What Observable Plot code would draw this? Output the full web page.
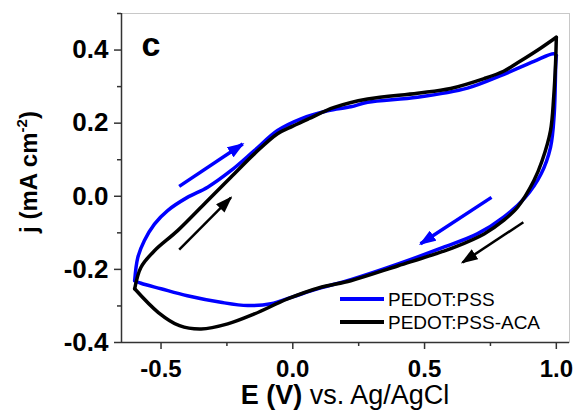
<!DOCTYPE html>
<html><head><meta charset="utf-8">
<script src="https://cdn.jsdelivr.net/npm/d3@7"></script>
<script src="https://cdn.jsdelivr.net/npm/@observablehq/plot@0.6"></script>
<style>
html,body{margin:0;padding:0;background:#fff;}
#chart{width:576px;height:410px;position:relative;}
svg{font-family:"Liberation Sans",Arial,sans-serif;}
</style></head><body><div id="chart"></div>
<script>
// Series
const series = ["PEDOT:PSS", "PEDOT:PSS-ACA"];
const seriesColors = ["#0000ff", "#000000"];

// PEDOT:PSS (blue) forward (anodic) scan
const pssFwdE = [-0.60, -0.588, -0.563, -0.525, -0.475, -0.40, -0.323, -0.235, -0.146, -0.058, 0.031, 0.132, 0.22, 0.284, 0.473, 0.663, 0.789, 0.915, 0.99, 1.0];
const pssFwdJ = [-0.231, -0.167, -0.121, -0.076, -0.039, -0.003, 0.025, 0.070, 0.125, 0.180, 0.212, 0.234, 0.245, 0.257, 0.271, 0.296, 0.330, 0.369, 0.390, 0.385];
// PEDOT:PSS (blue) reverse (cathodic) scan
const pssRevE = [1.0, 0.998, 0.992, 0.978, 0.942, 0.882, 0.80, 0.70, 0.57, 0.40, 0.22, 0.10, 0.0, -0.083, -0.171, -0.273, -0.40, -0.50, -0.576, -0.60];
const pssRevJ = [0.385, 0.362, 0.225, 0.134, 0.061, -0.003, -0.057, -0.103, -0.140, -0.185, -0.228, -0.252, -0.275, -0.294, -0.299, -0.290, -0.272, -0.253, -0.238, -0.231];

// PEDOT:PSS-ACA (black) forward scan
const acaFwdE = [-0.60, -0.576, -0.525, -0.437, -0.336, -0.235, -0.146, -0.058, 0.0, 0.06, 0.157, 0.284, 0.473, 0.599, 0.726, 0.80, 0.853, 0.94, 1.0];
const acaFwdJ = [-0.253, -0.194, -0.149, -0.094, -0.021, 0.052, 0.116, 0.171, 0.192, 0.212, 0.243, 0.266, 0.282, 0.295, 0.322, 0.342, 0.365, 0.405, 0.435];
// PEDOT:PSS-ACA (black) reverse scan
const acaRevE = [1.0, 0.997, 0.99, 0.978, 0.945, 0.915, 0.853, 0.80, 0.726, 0.612, 0.561, 0.40, 0.22, 0.107, -0.02, -0.146, -0.247, -0.348, -0.43, -0.51, -0.60];
const acaRevJ = [0.435, 0.362, 0.271, 0.180, 0.095, 0.043, -0.030, -0.066, -0.103, -0.140, -0.153, -0.190, -0.231, -0.249, -0.281, -0.322, -0.349, -0.363, -0.354, -0.318, -0.253];

// Scan-direction arrows
const arrowSeries = ["PEDOT:PSS", "PEDOT:PSS-ACA", "PEDOT:PSS", "PEDOT:PSS-ACA"];
const arrowE1 = [-0.431, -0.431, 0.754, 0.875];
const arrowJ1 = [0.027, -0.146, -0.003, -0.071];
const arrowE2 = [-0.19, -0.235, 0.485, 0.644];
const arrowJ2 = [0.143, -0.004, -0.130, -0.181];

// Axis ticks
const xMajorTicks = [-0.5, 0.0, 0.5, 1.0];
const xMinorTicks = [-0.25, 0.25, 0.75];
const yMajorTicks = [-0.4, -0.2, 0.0, 0.2, 0.4];
const yMinorTicks = [-0.3, -0.1, 0.1, 0.3, 0.5];

const rows = [];
function addSeg(name, seg, E, J) { E.forEach((e, i) => rows.push({series: name, seg: name + seg, E: e, J: J[i]})); }
addSeg(series[0], "f", pssFwdE, pssFwdJ);
addSeg(series[0], "r", pssRevE, pssRevJ);
addSeg(series[1], "f", acaFwdE, acaFwdJ);
addSeg(series[1], "r", acaRevE, acaRevJ);

const arrows = arrowSeries.map((s, i) => ({series: s, x1: arrowE1[i], y1: arrowJ1[i], x2: arrowE2[i], y2: arrowJ2[i]}));

const fmt = d => d.toFixed(1);
const axisStroke = "#333";

const chart = Plot.plot({
  width: 576, height: 410,
  marginLeft: 121, marginRight: 7, marginTop: 13, marginBottom: 68,
  style: {background: "#fff", color: "#000", fontFamily: "Liberation Sans, Arial, sans-serif", overflow: "visible"},
  x: {domain: [-0.65, 1.05], label: null},
  y: {domain: [-0.4, 0.5], label: null},
  color: {domain: series, range: seriesColors},
  marks: [
    Plot.frame({stroke: "#c8c8c8", strokeWidth: 1}),
    Plot.ruleX([-0.65], {stroke: axisStroke, strokeWidth: 1.5}),
    Plot.ruleY([-0.4], {stroke: axisStroke, strokeWidth: 1.5}),
    Plot.axisX({ticks: xMajorTicks, tickSize: 7, tickPadding: 10, tickFormat: fmt, fontSize: 24, fontWeight: "bold", stroke: axisStroke, strokeWidth: 1.5, label: null}),
    Plot.axisX({ticks: xMinorTicks, tickSize: 4, tickFormat: () => "", stroke: axisStroke, strokeWidth: 1.5, label: null}),
    Plot.axisY({ticks: yMajorTicks, tickSize: 7, tickPadding: 6, tickFormat: fmt, fontSize: 26, fontWeight: "bold", stroke: axisStroke, strokeWidth: 1.5, label: null}),
    Plot.axisY({ticks: yMinorTicks, tickSize: 4, tickFormat: () => "", stroke: axisStroke, strokeWidth: 1.5, label: null}),
    Plot.line(rows, {x: "E", y: "J", z: "seg", stroke: "series", strokeWidth: 3.5, curve: "catmull-rom"}),
    Plot.link(arrows, {x1: "x1", y1: "y1", x2: "x2", y2: "y2", stroke: "series", strokeWidth: d => d.series === series[0] ? 3.5 : 2.5}),
    Plot.text(["c"], {frameAnchor: "top-left", dx: 20, dy: 18, fontSize: 34, fontWeight: "bold", fill: "#000"})
  ]
});

document.getElementById("chart").appendChild(chart);

const svg = d3.select(chart.tagName.toLowerCase() === "svg" ? chart : chart.querySelector("svg"));
// Filled arrowheads
const defs = svg.append("defs");
seriesColors.forEach((c, i) => {
  defs.append("marker").attr("id", "head" + i)
    .attr("viewBox", "0 -6 17 12").attr("refX", 15).attr("refY", 0)
    .attr("markerWidth", 17).attr("markerHeight", 12)
    .attr("markerUnits", "userSpaceOnUse").attr("orient", "auto")
    .append("path").attr("d", "M0,-6L17,0L0,6Z").attr("fill", c);
});
svg.selectAll('g[aria-label="link"] path').each(function() {
  const s = (this.getAttribute("stroke") || "").toLowerCase();
  d3.select(this).attr("marker-end", s === seriesColors[0] ? "url(#head0)" : "url(#head1)");
});

// Axis titles
const yl = svg.append("text").attr("transform", "translate(37,172) rotate(-90)")
  .attr("text-anchor", "middle").attr("font-size", 24).attr("font-weight", "bold").attr("fill", "#000");
yl.append("tspan").text("j (mA cm");
yl.append("tspan").attr("font-size", 15).attr("dy", -10).text("-2");
yl.append("tspan").attr("dy", 10).text(")");

const xl = svg.append("text").attr("x", 345).attr("y", 404).attr("text-anchor", "middle").attr("font-size", 27).attr("fill", "#000");
xl.append("tspan").attr("font-weight", "bold").text("E (V)");
xl.append("tspan").text(" vs. Ag/AgCl");

// Legend
const lg = svg.append("g").attr("text-anchor", "start");
series.forEach((s, i) => {
  const yy = 299 + i * 23;
  lg.append("line").attr("x1", 340).attr("x2", 384).attr("y1", yy).attr("y2", yy)
    .attr("stroke", seriesColors[i]).attr("stroke-width", 4);
  lg.append("text").attr("x", 388).attr("y", yy + 7).attr("text-anchor", "start").attr("font-size", 19).attr("fill", "#000").text(s);
});
</script></body></html>
